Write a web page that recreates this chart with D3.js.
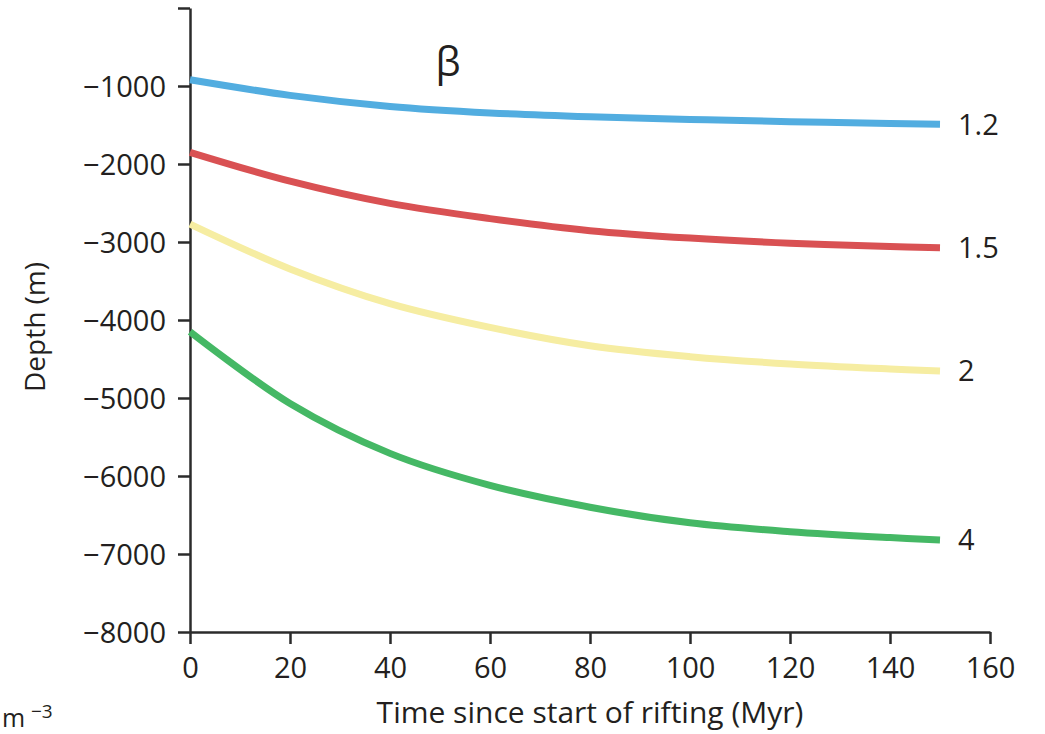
<!DOCTYPE html>
<html>
<head>
<meta charset="utf-8">
<script src="https://cdn.jsdelivr.net/npm/d3@7"></script>
<style>
  html, body { margin: 0; padding: 0; background: #fff; overflow: hidden; }
  svg { display: block; }
  text { font-family: "Open Sans", "Noto Sans", sans-serif; fill: #231f20; }
</style>
</head>
<body>
<svg id="chart" width="1045" height="734"></svg>
<script>
// ---- data ----
const times = [0, 20, 40, 60, 80, 100, 120, 140, 150];
const betaLabels = ["1.2", "1.5", "2", "4"];
const depthBeta12 = [-920, -1120, -1262, -1345, -1395, -1428, -1458, -1480, -1490];
const depthBeta15 = [-1850, -2220, -2505, -2700, -2855, -2950, -3015, -3058, -3073];
const depthBeta2  = [-2770, -3345, -3790, -4095, -4330, -4470, -4564, -4628, -4654];
const depthBeta4  = [-4150, -5070, -5710, -6120, -6400, -6600, -6714, -6790, -6820];
const seriesColors = ["#52ade0", "#d95153", "#f6eda2", "#45b865"];
const xTicks = [0, 20, 40, 60, 80, 100, 120, 140, 160];
const yTicks = [0, -1000, -2000, -3000, -4000, -5000, -6000, -7000, -8000];

const series = [depthBeta12, depthBeta15, depthBeta2, depthBeta4].map((vals, i) => ({
  label: betaLabels[i],
  color: seriesColors[i],
  points: times.map((t, j) => ({ t, d: vals[j] }))
}));

const svg = d3.select("#chart");
const x = d3.scaleLinear().domain([0, 160]).range([190, 990]);
const y = d3.scaleLinear().domain([0, -8000]).range([8, 632]);

const fmt = v => v === 0 ? "" : (v < 0 ? "\u2212" + Math.abs(v) : String(v));

// x axis
const gx = svg.append("g").attr("transform", `translate(0,${y(-8000)})`)
  .call(d3.axisBottom(x).tickValues(xTicks).tickSize(12).tickPadding(13).tickSizeOuter(0));
// y axis
const gy = svg.append("g").attr("transform", `translate(${x(0)},0)`)
  .call(d3.axisLeft(y).tickValues(yTicks).tickFormat(fmt).tickSize(12).tickPadding(12).tickSizeOuter(0));

[gx, gy].forEach(g => {
  g.select(".domain").attr("stroke", "#2b2b2b").attr("stroke-width", 2.5);
  g.selectAll(".tick line").attr("stroke", "#2b2b2b").attr("stroke-width", 2.5);
  g.selectAll(".tick text").attr("font-size", 29).attr("fill", "#231f20")
    .attr("font-family", '"Open Sans", sans-serif');
});
gy.selectAll(".tick text").attr("dy", "0.36em");

// curves
const line = d3.line().x(p => x(p.t)).y(p => y(p.d)).curve(d3.curveCatmullRom.alpha(0.5));
series.forEach(s => {
  svg.append("path").datum(s.points)
    .attr("d", line)
    .attr("fill", "none")
    .attr("stroke", s.color)
    .attr("stroke-width", 7);
  const last = s.points[s.points.length - 1];
  svg.append("text")
    .attr("x", x(last.t) + 18)
    .attr("y", y(last.d))
    .attr("dy", "0.36em")
    .attr("font-size", 29)
    .text(s.label);
});

// beta label
svg.append("text").attr("x", 448).attr("y", 76)
  .attr("text-anchor", "middle")
  .attr("font-family", '"DejaVu Serif", "Liberation Serif", serif')
  .attr("font-size", 40)
  .text("\u03b2");

// axis titles
svg.append("text").attr("x", 590).attr("y", 723)
  .attr("text-anchor", "middle").attr("font-size", 30)
  .text("Time since start of rifting (Myr)");
svg.append("text")
  .attr("transform", `translate(45,${(y(0) + y(-8000)) / 2 + 7}) rotate(-90)`)
  .attr("text-anchor", "middle").attr("font-size", 28)
  .text("Depth (m)");

// unit fragment at bottom-left
svg.append("text").attr("x", 2).attr("y", 727).attr("font-size", 25).text("m");
svg.append("text").attr("x", 31).attr("y", 718).attr("font-size", 19).text("\u22123");
</script>
</body>
</html>
